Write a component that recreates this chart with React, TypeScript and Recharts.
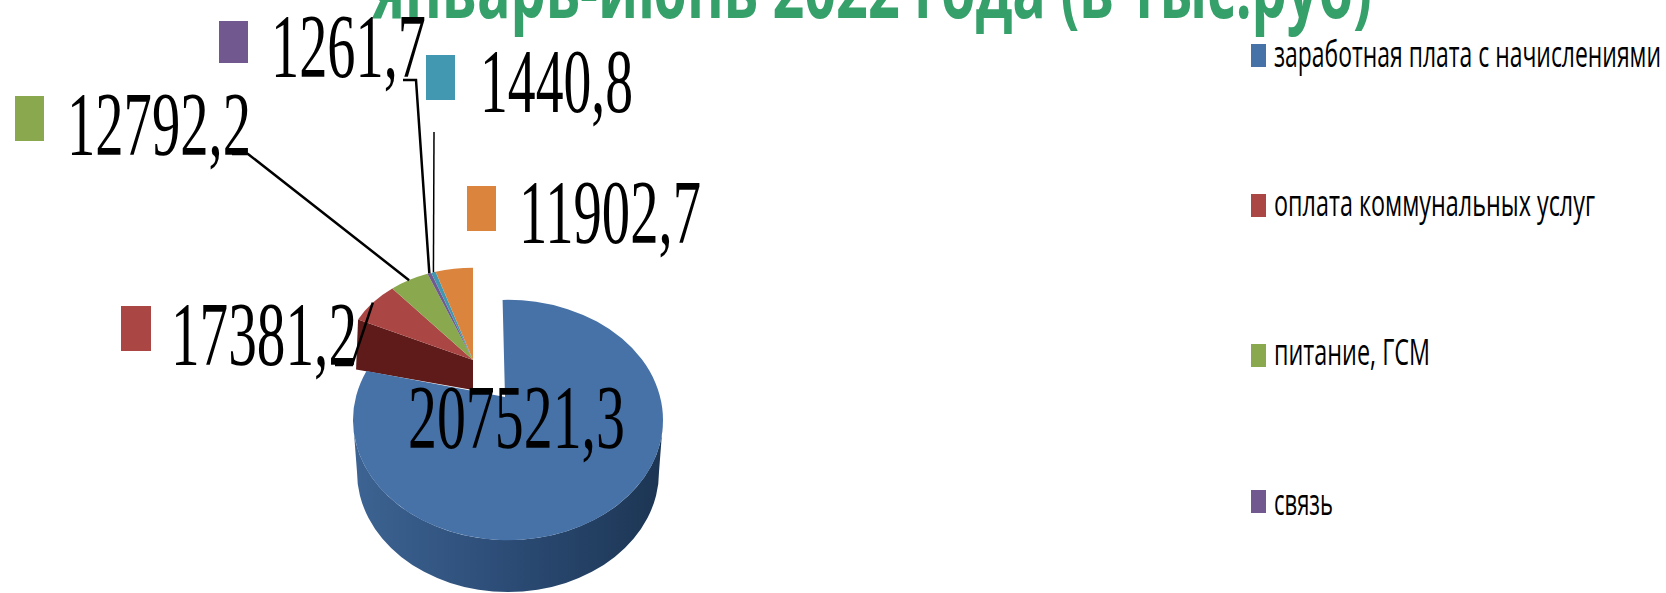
import { Cell, Legend, Pie, PieChart } from "recharts";

const categories = [
  "заработная плата с начислениями",
  "оплата коммунальных услуг",
  "питание, ГСМ",
  "связь",
  "прочие услуги",
  "прочие расходы",
];
const values = [207521.3, 17381.2, 12792.2, 1261.7, 1440.8, 11902.7];
const colors = ["#4672a8", "#aa4644", "#8aa84d", "#71588f", "#4298b0", "#db843d"];
const legendCount = 4; // the rest is cut off in the original

const title = "январь-июнь 2022 года (в тыс.руб)";

const chartData = categories.map((name, i) => ({ name, value: values[i] }));

// text boxes of the data labels, per slice
const labelLayout = [
  { textX: 408, baseline: 448, width: 217 },
  { textX: 171, baseline: 365, width: 186, marker: [121, 306, 30, 45], elbow: [[352, 365], [335, 365]] },
  { textX: 67, baseline: 155, width: 184, marker: [15, 96, 29, 45], elbow: [[248, 154], [232, 154]] },
  { textX: 271, baseline: 77, width: 155, marker: [219, 21, 29, 42], elbow: [[416, 80], [403, 80]] },
  { textX: 480, baseline: 112, width: 153, marker: [426, 55, 29, 45], elbow: [[434, 132]] },
  { textX: 519, baseline: 243, width: 182, marker: [467, 186, 29, 45] },
];

const legendRows = [
  { box: 44, baseline: 67, width: 387 },
  { box: 194, baseline: 216, width: 321 },
  { box: 344, baseline: 365, width: 156 },
  { box: 490, baseline: 515, width: 59 },
];

const MAIN_SQUASH = 0.775;
const SMALL_SQUASH = 0.72;
const RAD = Math.PI / 180;

const pt = (cx: number, cy: number, rx: number, ry: number, deg: number) => [
  cx + rx * Math.cos(deg * RAD),
  cy - ry * Math.sin(deg * RAD),
];

function slicePath(p: any, squash: number, ax: number, ay: number) {
  const rx = p.outerRadius;
  const ry = rx * squash;
  const [x0, y0] = pt(p.cx, p.cy, rx, ry, p.startAngle);
  const [x1, y1] = pt(p.cx, p.cy, rx, ry, p.endAngle);
  const large = Math.abs(p.startAngle - p.endAngle) > 180 ? 1 : 0;
  return `M${ax} ${ay}L${x0} ${y0}A${rx} ${ry} 0 ${large} 1 ${x1} ${y1}Z`;
}

// big slice: seen in perspective, so its tip sits above the centre of the ellipse
function MainSlice(p: any) {
  if (p.name !== categories[0]) return null;
  const rx = p.outerRadius;
  const ry = rx * MAIN_SQUASH;
  const d = 52;
  return (
    <g>
      <path
        d={`M${p.cx - rx} ${p.cy}A${rx} ${ry} 0 0 0 ${p.cx + rx} ${p.cy}L${p.cx + rx - 4} ${p.cy + d}A${rx - 4} ${ry} 0 0 1 ${p.cx - rx + 4} ${p.cy + d}Z`}
        fill="url(#blueWall)"
      />
      <path d={slicePath(p, MAIN_SQUASH, p.cx - 3, p.cy - 23)} fill={p.fill} />
    </g>
  );
}

function ExplodedSlice(p: any) {
  if (p.name === categories[0]) return null;
  const rx = p.outerRadius;
  const ry = rx * SMALL_SQUASH;
  let wall = null;
  if (p.name === categories[1]) {
    const [sx, sy] = pt(p.cx, p.cy, rx, ry, p.startAngle);
    wall = <path d={`M${p.cx} ${p.cy}L${sx} ${sy}L${sx - 2} ${sy + 50}L${p.cx} ${p.cy + 30}Z`} fill="#5e1b1a" />;
  }
  return (
    <g>
      {wall}
      <path d={slicePath(p, SMALL_SQUASH, p.cx, p.cy)} fill={p.fill} />
    </g>
  );
}

function SliceLabel(p: any) {
  const l = labelLayout[p.index];
  const text = values[p.index].toFixed(1).replace(".", ",");
  let line = null;
  if (l.elbow) {
    const [sx, sy] = pt(p.cx, p.cy, p.outerRadius, p.outerRadius * SMALL_SQUASH, p.midAngle);
    const pts = [[sx, sy], ...l.elbow].map((q) => q.join(",")).join(" ");
    line = <polyline points={pts} fill="none" stroke="#000" strokeWidth={p.index === 4 ? 1.5 : 2.5} />;
  }
  return (
    <g>
      {l.marker && (
        <rect x={l.marker[0]} y={l.marker[1]} width={l.marker[2]} height={l.marker[3]} fill={colors[p.index]} />
      )}
      {line}
      <text
        x={l.textX}
        y={l.baseline}
        textLength={l.width}
        lengthAdjust="spacingAndGlyphs"
        fontFamily="Liberation Serif"
        fontSize={91}
        fill="#000"
        textAnchor="start"
      >
        {text}
      </text>
    </g>
  );
}

function LegendBlock() {
  return (
    <svg width={1666} height={593} style={{ display: "block" }}>
      {legendRows.slice(0, legendCount).map((r, i) => (
        <g key={categories[i]}>
          <rect x={1251} y={r.box} width={15} height={23} fill={colors[i]} />
          <text
            x={1274}
            y={r.baseline}
            textLength={r.width}
            lengthAdjust="spacingAndGlyphs"
            fontFamily="Open Sans"
            fontSize={36}
            fill="#000"
          >
            {categories[i]}
          </text>
        </g>
      ))}
    </svg>
  );
}

export default function App() {
  return (
    <div style={{ position: "absolute", left: 0, top: 0, width: 1666, height: 593, overflow: "hidden", background: "#fff" }}>
      <PieChart width={1666} height={593} margin={{ top: 0, right: 0, bottom: 0, left: 0 }}>
        <defs>
          <linearGradient id="blueWall" gradientUnits="userSpaceOnUse" x1="351" y1="0" x2="661" y2="0">
            <stop offset="0%" stopColor="#3d6493" />
            <stop offset="50%" stopColor="#2c4c76" />
            <stop offset="100%" stopColor="#1c3553" />
          </linearGradient>
        </defs>
        <text
          x={372}
          y={18}
          textLength={1000}
          lengthAdjust="spacingAndGlyphs"
          fontFamily="Open Sans"
          fontWeight={700}
          fontSize={80}
          fill="#36a06a"
        >
          {title}
        </text>
        <Pie
          data={chartData}
          dataKey="value"
          nameKey="name"
          cx={473}
          cy={360}
          outerRadius={128}
          startAngle={90}
          endAngle={-270}
          stroke="none"
          shape={(p: any) => <ExplodedSlice {...p} />}
          label={false}
          isAnimationActive={false}
        >
          {categories.map((c, i) => (
            <Cell key={c} fill={colors[i]} />
          ))}
        </Pie>
        <Pie
          data={chartData}
          dataKey="value"
          nameKey="name"
          cx={508}
          cy={420}
          outerRadius={155}
          startAngle={92}
          endAngle={-268}
          stroke="none"
          shape={(p: any) => <MainSlice {...p} />}
          label={false}
          isAnimationActive={false}
        >
          {categories.map((c, i) => (
            <Cell key={c} fill={colors[i]} />
          ))}
        </Pie>
        <Pie
          data={chartData}
          dataKey="value"
          nameKey="name"
          cx={473}
          cy={360}
          outerRadius={128}
          startAngle={90}
          endAngle={-270}
          fill="none"
          stroke="none"
          shape={() => <g />}
          label={(p: any) => <SliceLabel {...p} />}
          labelLine={false}
          isAnimationActive={false}
        />
        <Legend
          content={() => <LegendBlock />}
          wrapperStyle={{ left: 0, top: 0, width: 1666, height: 593, bottom: "auto", pointerEvents: "none" }}
        />
      </PieChart>
    </div>
  );
}
